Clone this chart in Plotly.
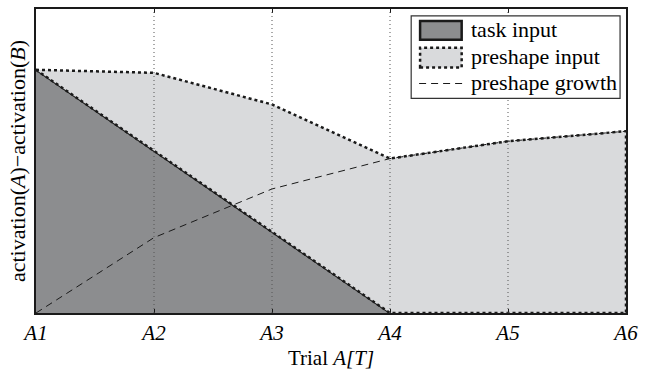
import plotly.graph_objects as go

trials = ["A1", "A2", "A3", "A4", "A5", "A6"]
task_input = [0.80, 0.533, 0.267, 0.0, 0.0, 0.0]
preshape_input = [0.80, 0.79, 0.686, 0.508, 0.565, 0.598]
preshape_growth = [0.0, 0.248, 0.408, 0.508, 0.565, 0.598]

xs = list(range(1, len(trials) + 1))
FONT = "Liberation Serif"

fig = go.Figure()
# task input area
fig.add_trace(go.Scatter(x=xs, y=task_input, mode="lines", fill="tozeroy",
                         fillcolor="#8c8d8f", line=dict(color="#1a1a1a", width=2),
                         showlegend=False, hoverinfo="skip"))
# preshape input area (between task and preshape curve)
fig.add_trace(go.Scatter(x=xs + xs[::-1], y=preshape_input + task_input[::-1],
                         mode="lines", fill="toself", fillcolor="#d9dadc",
                         line=dict(color="#1a1a1a", width=2.5, dash="dot"),
                         showlegend=False, hoverinfo="skip"))
# preshape growth
fig.add_trace(go.Scatter(x=xs, y=preshape_growth, mode="lines",
                         line=dict(color="#1a1a1a", width=1, dash="7px,5px"),
                         showlegend=False, hoverinfo="skip"))

fig.update_xaxes(range=[1, 6], tickvals=xs, ticktext=[f"<i>{t}</i>" for t in trials],
                 tickfont=dict(family=FONT, size=21, color="black"),
                 showline=True, linecolor="#1a1a1a", linewidth=2, mirror="ticks",
                 ticks="inside", ticklen=4, tickcolor="#1a1a1a",
                 showgrid=False, layer="above traces", zeroline=False,
                 title=dict(text="Trial <i>A[T]</i>", font=dict(family=FONT, size=21, color="black"),
                            standoff=6))
fig.update_yaxes(range=[0, 1], showticklabels=False, ticks="",
                 showline=True, linecolor="#1a1a1a", linewidth=2, mirror=True,
                 showgrid=False, zeroline=False, layer="above traces",
                 title=dict(text="activation(<i>A</i>)\u2212activation(<i>B</i>)",
                            font=dict(family=FONT, size=22, color="black"), standoff=2))

# dotted vertical grid lines drawn above the filled areas
shapes = [dict(type="line", xref="x", yref="paper", x0=xv, x1=xv, y0=0, y1=1,
               line=dict(color="#555555", width=1, dash="1px,3px"), layer="above")
          for xv in xs[1:-1]]

# manual legend
shapes += [
    dict(type="rect", xref="paper", yref="paper", x0=(415-36)/596, x1=(626-36)/596,
         y0=(313-97)/306, y1=(313-14)/306, line=dict(color="#333333", width=1.2),
         fillcolor="white", layer="above"),
    dict(type="rect", xref="paper", yref="paper", x0=(424-36)/596, x1=(466-36)/596,
         y0=(313-38)/306, y1=(313-19)/306, line=dict(color="#1a1a1a", width=2.5),
         fillcolor="#8c8d8f", layer="above"),
    dict(type="rect", xref="paper", yref="paper", x0=(424-36)/596, x1=(466-36)/596,
         y0=(313-66)/306, y1=(313-46)/306, line=dict(color="#1a1a1a", width=2.5, dash="dot"),
         fillcolor="#d9dadc", layer="above"),
    dict(type="line", xref="paper", yref="paper", x0=(423-36)/596, x1=(467-36)/596,
         y0=(313-82)/306, y1=(313-82)/306, line=dict(color="#1a1a1a", width=1, dash="7px,5px"),
         layer="above"),
]
labels = [("task input", 28), ("preshape input", 55), ("preshape growth", 81)]
annotations = [dict(text=t, xref="paper", yref="paper", x=(473-36)/596, y=(313-yy)/306,
                    xanchor="left", yanchor="middle", showarrow=False,
                    font=dict(family=FONT, size=22, color="black")) for t, yy in labels]

fig.update_layout(width=645, height=377, margin=dict(l=36, r=13, t=7, b=64),
                  paper_bgcolor="white", plot_bgcolor="white",
                  font=dict(family=FONT, size=20, color="black"),
                  shapes=shapes, annotations=annotations)
fig.write_html("out.html")
